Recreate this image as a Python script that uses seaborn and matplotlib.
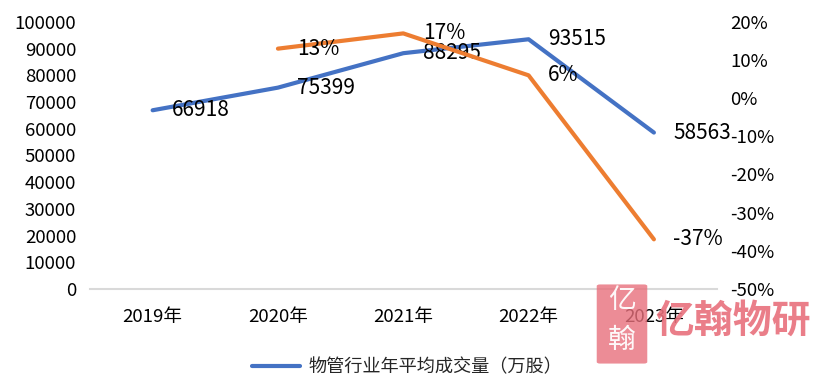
import numpy as np
import pandas as pd
import seaborn as sns
from matplotlib import pyplot as plt
import matplotlib.patches as patches
from matplotlib.lines import Line2D

years = ['2019年', '2020年', '2021年', '2022年', '2023年']
volume = [66918, 75399, 88295, 93515, 58563]
growth = [np.nan, 0.13, 0.17, 0.06, -0.37]
growth_labels = ['', '13%', '17%', '6%', '-37%']
legend_label = '物管行业年平均成交量（万股）'

BLUE = '#4472C4'
ORANGE = '#ED7D31'

sns.set_theme(style='white')
plt.rcParams['font.family'] = ['Noto Sans CJK SC', 'DejaVu Sans']

df = pd.DataFrame({'pos': np.arange(len(years)), 'volume': volume, 'growth': growth})

fig = plt.figure(figsize=(8.18, 3.92), dpi=100)
ax = fig.add_axes([0.110, 0.263, 0.766, 0.681])
ax2 = ax.twinx()

sns.lineplot(data=df, x='pos', y='volume', ax=ax, color=BLUE, linewidth=3,
             solid_capstyle='round')
sns.lineplot(data=df.dropna(), x='pos', y='growth', ax=ax2, color=ORANGE, linewidth=3,
             solid_capstyle='round')

for x, v in zip(df['pos'], volume):
    ax.annotate(str(v), (x, v), xytext=(14, 0), textcoords='offset points',
                va='center', ha='left', fontsize=15, color='black')
for x, g, t in zip(df['pos'], growth, growth_labels):
    if t:
        ax2.annotate(t, (x, g), xytext=(14, 0), textcoords='offset points',
                     va='center', ha='left', fontsize=15, color='black')

ax.set_xlim(-0.5, len(years) - 0.5)
ax.set_ylim(0, 100000)
ax.set_yticks(range(0, 100001, 10000))
ax.set_xticks(df['pos'])
ax.set_xticklabels(years)
ax2.set_ylim(-0.5, 0.2)
ax2.set_yticks(np.arange(-0.5, 0.201, 0.1))
ax2.set_yticklabels([f'{round(v * 100)}%' for v in np.arange(-0.5, 0.201, 0.1)])

for a in (ax, ax2):
    a.set_xlabel('')
    a.set_ylabel('')
    for s in a.spines.values():
        s.set_visible(False)
    a.tick_params(length=0, labelsize=13.4, colors='black')
    a.grid(False)
ax.spines['bottom'].set_visible(True)
ax.spines['bottom'].set_color('#d9d9d9')
ax.spines['bottom'].set_linewidth(1.5)
ax.tick_params(axis='x', pad=14)
ax.tick_params(axis='y', pad=10)
ax2.tick_params(axis='y', pad=10)

handle = Line2D([], [], color=BLUE, linewidth=3, solid_capstyle='round')
fig.legend([handle], [legend_label], loc='center', bbox_to_anchor=(0.498, 0.062),
           frameon=False, fontsize=13.1, handlelength=2.6, handletextpad=0.5)

# watermark
box = patches.FancyBboxPatch((600 / 818, 1 - 362 / 392), 44 / 818, 76 / 392,
                             boxstyle='round,pad=0.004', transform=fig.transFigure,
                             facecolor='#e8707c', edgecolor='none', alpha=0.8, zorder=10)
fig.add_artist(box)
fig.text(622 / 818, 1 - 300 / 392, '亿', color='white', fontsize=20, ha='center', va='center',
         zorder=11, alpha=0.95)
fig.text(622 / 818, 1 - 340 / 392, '翰', color='white', fontsize=20, ha='center', va='center',
         zorder=11, alpha=0.95)
fig.text(655 / 818, 1 - 321 / 392, '亿翰物研', color='#e8707c', fontsize=28, fontweight='bold',
         ha='left', va='center', zorder=11, alpha=0.9)

fig.savefig('out.png', dpi=100)
